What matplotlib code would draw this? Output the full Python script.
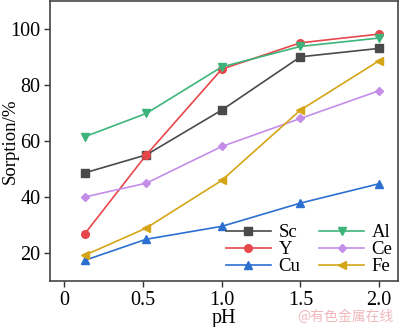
import matplotlib
matplotlib.use("Agg")
import matplotlib.pyplot as plt

ph = [0.13, 0.52, 1.0, 1.5, 2.0]
sc = [48.6, 55.0, 71.0, 90.0, 93.0]
y_ = [26.9, 55.0, 85.6, 95.0, 98.1]
cu = [17.4, 24.9, 29.5, 37.8, 44.7]
al = [61.5, 69.8, 86.4, 93.7, 96.7]
ce = [40.0, 44.9, 58.0, 68.0, 77.9]
fe = [19.2, 28.9, 45.9, 71.0, 88.6]

series = [
    ("Sc", sc, "#4a4a4a", "s"),
    ("Y", y_, "#e5474b", "o"),
    ("Cu", cu, "#2b70d0", "^"),
    ("Al", al, "#3db57a", "v"),
    ("Ce", ce, "#c48ee8", "D"),
    ("Fe", fe, "#d4a516", "<"),
]

plt.rcParams['font.family'] = ['Liberation Serif', 'DejaVu Serif']
fig = plt.figure(figsize=(4.0, 3.27), dpi=100)
ax = fig.add_axes([0.125, 0.1407, 0.87, 0.857])

for name, vals, col, mk in series:
    ms = 4.5 if mk == "D" else 5.5
    ax.plot(ph, vals, color=col, marker=mk, markersize=ms, linewidth=1.2, label=name)

ax.set_xlim(-0.092, 2.12)
ax.set_ylim(10, 110)
ax.set_xticks([0, 0.5, 1.0, 1.5, 2.0])
ax.set_xticklabels(["0", "0.5", "1.0", "1.5", "2.0"])
ax.set_yticks([20, 40, 60, 80, 100])
ax.tick_params(axis='both', direction='out', labelsize=14.5, length=4, width=1, color='#333333', pad=3)
for s in ax.spines.values():
    s.set_linewidth(1.2)
    s.set_color('#444444')
ax.set_xlabel("pH", fontsize=14.5)
ax.xaxis.set_label_coords(0.5, -0.1)
ax.set_ylabel("Sorption/%", fontsize=13.5)
ax.yaxis.set_label_coords(-0.09, 0.5)

ax.legend(ncol=2, loc='lower right', frameon=False, fontsize=13.5,
          handlelength=2.4, handletextpad=0.4, columnspacing=1.0,
          labelspacing=0.0, borderaxespad=0.1, borderpad=0.2)

fig.text(0.985, 0.01, "@有色金属在线", color='#f0b8bc', fontsize=10,
         ha='right', va='bottom', family=['Noto Sans CJK SC', 'DejaVu Sans'])

fig.savefig("out.png", dpi=100)
